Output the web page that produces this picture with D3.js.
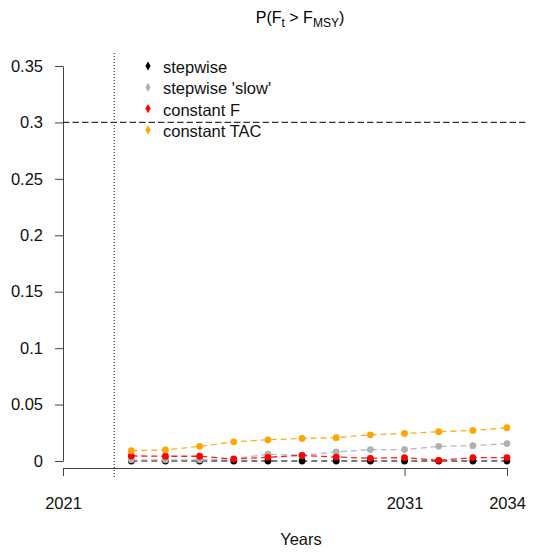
<!DOCTYPE html>
<html>
<head>
<meta charset="utf-8">
<script src="https://cdn.jsdelivr.net/npm/d3@7"></script>
<style>
  body { margin: 0; background: #fff; }
  text { font-family: "Liberation Sans", Arial, sans-serif; }
</style>
</head>
<body>
<div id="graphic"></div>
<script>
(function() {
  var W = 536, H = 552;

  /*** DATA ***/
  var years = [2023, 2024, 2025, 2026, 2027, 2028, 2029, 2030, 2031, 2032, 2033, 2034];
  var stepwise = [0, 0, 0, 0, 0, 0, 0, 0, 0, 0, 0, 0];
  var stepwiseSlow = [0.001, 0.001, 0.001, 0.002, 0.006, 0.005, 0.008, 0.0101, 0.0101, 0.013, 0.0136, 0.0154];
  var constantF = [0.0045, 0.0042, 0.0042, 0.0017, 0.0033, 0.005, 0.0035, 0.0024, 0.003, 0.0006, 0.003, 0.003];
  var constantTAC = [0.0091, 0.0098, 0.013, 0.017, 0.0188, 0.02, 0.0207, 0.0232, 0.0244, 0.026, 0.0271, 0.0295];
  var yTicks = [0, 0.05, 0.1, 0.15, 0.2, 0.25, 0.3, 0.35];
  var xTicks = [2021, 2031, 2034];
  var seriesNames = ["stepwise", "stepwise 'slow'", "constant F", "constant TAC"];
  var colors = ["#000000", "#b0b0b0", "#ff0000", "#ffa500"];
  var refLevel = 0.3;
  var refYear = 2022.5;

  var series = [stepwise, stepwiseSlow, constantF, constantTAC];
  var fontSize = 16.5;

  var svg = d3.select("#graphic")
    .append("svg")
    .attr("width", W)
    .attr("height", H);

  /*** SCALES ***/
  var x = d3.scaleLinear().domain([2021, 2034]).range([63, 507]);
  var y = d3.scaleLinear().domain([0, 0.35]).range([461, 66]);
  var plotTop = 53, plotBottom = 477, plotRight = 527;

  /*** TITLE ***/
  var title = svg.append("text")
    .attr("x", 300)
    .attr("y", 23)
    .attr("text-anchor", "middle")
    .attr("font-size", 16)
    .attr("fill", "#000");
  title.append("tspan").text("P(F");
  title.append("tspan").attr("font-size", 12).attr("dy", 4).text("t");
  title.append("tspan").attr("dy", -4).text(" > F");
  title.append("tspan").attr("font-size", 12).attr("dy", 4).text("MSY");
  title.append("tspan").attr("dy", -4).text(")");

  /*** Y AXIS ***/
  var yAxis = svg.append("g")
    .attr("transform", "translate(63,0)")
    .call(d3.axisLeft(y).tickValues(yTicks).tickSize(8).tickSizeOuter(0)
      .tickFormat(function(d) { return String(d); }));
  yAxis.select(".domain").attr("stroke", "#444");
  yAxis.selectAll(".tick line").attr("stroke", "#444");
  yAxis.selectAll(".tick text")
    .attr("x", -20)
    .attr("font-size", fontSize)
    .attr("font-family", "Liberation Sans, Arial, sans-serif")
    .attr("fill", "#111");

  /*** X AXIS ***/
  var xAxis = svg.append("g")
    .attr("transform", "translate(0,468)")
    .call(d3.axisBottom(x).tickValues(xTicks).tickSize(8).tickSizeOuter(0)
      .tickFormat(d3.format("d")));
  xAxis.select(".domain").attr("stroke", "#444");
  xAxis.selectAll(".tick line").attr("stroke", "#444");
  xAxis.selectAll(".tick text")
    .attr("y", 41)
    .attr("dy", 0)
    .attr("font-size", fontSize)
    .attr("font-family", "Liberation Sans, Arial, sans-serif")
    .attr("fill", "#111");

  svg.append("text")
    .attr("x", 301)
    .attr("y", 545)
    .attr("text-anchor", "middle")
    .attr("font-size", fontSize)
    .attr("fill", "#111")
    .text("Years");

  /*** REFERENCE LINES ***/
  svg.append("line")
    .attr("x1", 63).attr("x2", plotRight)
    .attr("y1", y(refLevel)).attr("y2", y(refLevel))
    .attr("stroke", "#333")
    .attr("stroke-width", 1.2)
    .attr("stroke-dasharray", "6.5,3");

  svg.append("line")
    .attr("x1", x(refYear)).attr("x2", x(refYear))
    .attr("y1", plotTop).attr("y2", plotBottom)
    .attr("stroke", "#333")
    .attr("stroke-width", 1.2)
    .attr("stroke-dasharray", "1,2");

  /*** SERIES ***/
  var line = d3.line()
    .x(function(d, i) { return x(years[i]); })
    .y(function(d) { return y(d); });

  series.forEach(function(vals, k) {
    var g = svg.append("g").attr("class", "series");
    g.append("path")
      .attr("d", line(vals))
      .attr("fill", "none")
      .attr("stroke", colors[k])
      .attr("stroke-width", 1.3)
      .attr("stroke-opacity", k === 0 ? 0.7 : 0.9)
      .attr("stroke-dasharray", "6,4");
    g.selectAll("circle")
      .data(vals).enter().append("circle")
      .attr("cx", function(d, i) { return x(years[i]); })
      .attr("cy", function(d) { return y(d); })
      .attr("r", 3.4)
      .attr("fill", colors[k]);
  });

  /*** LEGEND ***/
  var legend = svg.append("g").attr("transform", "translate(148,66)");
  seriesNames.forEach(function(name, k) {
    var row = legend.append("g").attr("transform", "translate(0," + (k * 21.3) + ")");
    row.append("path")
      .attr("d", d3.symbol().type(d3.symbolDiamond).size(24))
      .attr("fill", colors[k]);
    row.append("text")
      .attr("x", 15)
      .attr("y", 7)
      .attr("font-size", fontSize)
      .attr("fill", "#111")
      .text(name);
  });
})();
</script>
</body>
</html>
